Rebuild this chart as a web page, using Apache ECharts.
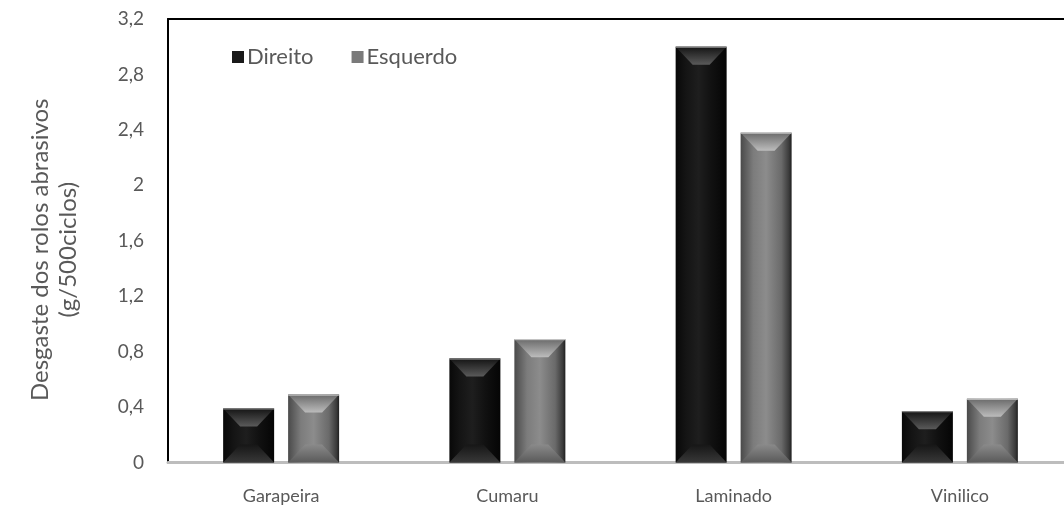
<!DOCTYPE html>
<html>
<head>
<meta charset="utf-8">
<script src="https://cdn.jsdelivr.net/npm/echarts@6/dist/echarts.min.js"></script>
<style>
  html, body { margin: 0; padding: 0; background: #fff; }
  #chart { width: 1064px; height: 506px; }
</style>
</head>
<body>
<div id="chart"></div>
<script>
// Abrasive roller wear per floor type (g / 500 cycles)
const categories = ['Garapeira', 'Cumaru', 'Laminado', 'Vinilico'];
const direito = [0.39, 0.75, 3.0, 0.37];
const esquerdo = [0.49, 0.89, 2.38, 0.46];
const yTicks = { min: 0, max: 3.2, interval: 0.4 };

const TEXT = '#595959';
const FONT = 'Lato, "Open Sans", sans-serif';

// Shading for each bevelled bar style
const palettes = {
  direito: {
    legend: '#1a1a1a',
    body: [[0, '#080808'], [0.2, '#141414'], [0.45, '#1e1e1e'], [0.7, '#111111'], [1, '#050505']],
    top: [[0, '#141414'], [1, '#5a5a5a']],
    bottom: [[0, '#161616'], [1, '#383838']],
    edge: '#9a9a9a'
  },
  esquerdo: {
    legend: '#7a7a7a',
    body: [[0, '#4a4a4a'], [0.25, '#7c7c7c'], [0.5, '#8c8c8c'], [0.8, '#6a6a6a'], [0.95, '#3a3a3a'], [1, '#1e1e1e']],
    top: [[0, '#6a6a6a'], [1, '#bcbcbc']],
    bottom: [[0, '#8a8a8a'], [1, '#5a5a5a']],
    edge: '#d0d0d0'
  }
};

function grad(stops, horizontal) {
  return {
    type: 'linear', x: 0, y: 0, x2: horizontal ? 1 : 0, y2: horizontal ? 0 : 1,
    colorStops: stops.map(s => ({ offset: s[0], color: s[1] }))
  };
}

// Draws one bevelled column; side = -1 (left slot) or +1 (right slot)
function bevelBar(pal, side) {
  return function (params, api) {
    const cat = api.value(0);
    const val = api.value(1);
    const top = api.coord([cat, val]);
    const base = api.coord([cat, 0]);
    const band = api.size([1, 0])[0];
    const w = band * 0.2254;
    const cx = top[0] + side * band * 0.1436;
    const x0 = cx - w / 2, x1 = cx + w / 2;
    const y0 = top[1], y1 = base[1];
    const h = y1 - y0;
    const bx = Math.min(17, w / 2 - 2);
    const by = Math.min(18, h / 2);
    return {
      type: 'group',
      children: [
        { type: 'rect', shape: { x: x0, y: y0, width: w, height: h }, style: { fill: grad(pal.body, true) } },
        { type: 'polygon', shape: { points: [[x0, y0], [x1, y0], [x1 - bx, y0 + by], [x0 + bx, y0 + by]] },
          style: { fill: grad(pal.top, false) } },
        { type: 'polygon', shape: { points: [[x0 + bx, y1 - by], [x1 - bx, y1 - by], [x1, y1], [x0, y1]] },
          style: { fill: grad(pal.bottom, false) } },
        { type: 'line', shape: { x1: x0, y1: y0 + 0.5, x2: x1, y2: y0 + 0.5 },
          style: { stroke: pal.edge, lineWidth: 1 } }
      ]
    };
  };
}

const chart = echarts.init(document.getElementById('chart'), null, { renderer: 'canvas' });

chart.setOption({
  animation: false,
  backgroundColor: '#fff',
  textStyle: { fontFamily: FONT, color: TEXT },
  grid: { left: 168, width: 905, top: 19, bottom: 43.5, containLabel: false, outerBoundsMode: 'none' },
  legend: {
    left: 227, top: 41,
    icon: 'rect', itemWidth: 12, itemHeight: 12, itemGap: 38,
    textStyle: { fontFamily: FONT, fontSize: 22, color: TEXT, padding: [0, 0, 0, -2] },
    data: ['Direito', 'Esquerdo']
  },
  xAxis: [
    {
      type: 'category', data: categories, position: 'bottom',
      axisLine: { lineStyle: { color: '#bdbdbd', width: 3 } },
      axisTick: { show: false },
      axisLabel: { fontFamily: FONT, fontSize: 18, color: TEXT, margin: 25 }
    },
    {
      type: 'category', data: categories, position: 'top',
      axisLine: { lineStyle: { color: '#000', width: 2 } },
      axisTick: { show: false }, axisLabel: { show: false }
    }
  ],
  yAxis: {
    type: 'value', min: yTicks.min, max: yTicks.max, interval: yTicks.interval,
    name: 'Desgaste dos rolos abrasivos\n(g/500ciclos)',
    nameLocation: 'middle', nameGap: 86,
    nameTextStyle: {
      fontFamily: FONT, fontSize: 24, color: TEXT, lineHeight: 28, align: 'center',
      padding: [0, 18, 0, 0]
    },
    axisLine: { show: true, lineStyle: { color: '#000', width: 2 } },
    axisTick: { show: false },
    splitLine: { show: false },
    axisLabel: {
      fontFamily: FONT, fontSize: 19, color: TEXT, margin: 24,
      formatter: v => String(+v.toFixed(1)).replace('.', ',')
    }
  },
  series: [
    {
      name: 'Direito', type: 'custom',
      itemStyle: { color: palettes.direito.legend },
      renderItem: bevelBar(palettes.direito, -1),
      encode: { x: 0, y: 1 },
      data: direito.map((v, i) => [i, v])
    },
    {
      name: 'Esquerdo', type: 'custom',
      itemStyle: { color: palettes.esquerdo.legend },
      renderItem: bevelBar(palettes.esquerdo, 1),
      encode: { x: 0, y: 1 },
      data: esquerdo.map((v, i) => [i, v])
    }
  ]
});
</script>
</body>
</html>
